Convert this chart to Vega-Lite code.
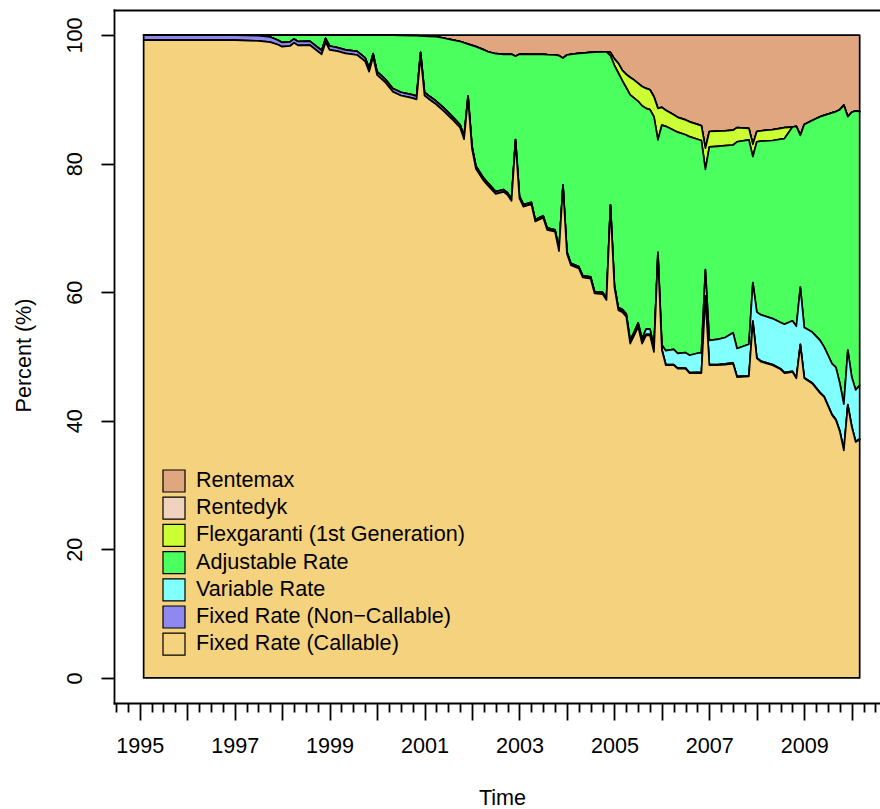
{
"$schema":"https://vega.github.io/schema/vega-lite/v6.json",
"width":766,"height":693,
"autosize":{"type":"none"},
"padding":{"left":114,"top":10,"right":0,"bottom":106},
"background":"white",
"config":{"view":{"stroke":null},"font":"Liberation Sans"},
"data":{"values":[
{"t":1995.083,"g":99.2,"f":0.8,"e":0,"d":0,"c":0,"b":0,"a":0},
{"t":1996.0,"g":99.2,"f":0.8,"e":0,"d":0,"c":0,"b":0,"a":0},
{"t":1997.0,"g":99.2,"f":0.8,"e":0,"d":0,"c":0,"b":0,"a":0},
{"t":1997.5,"g":99.1,"f":0.8,"e":0,"d":0.1,"c":0,"b":0,"a":0},
{"t":1997.75,"g":98.9,"f":0.8,"e":0,"d":0.3,"c":0,"b":0,"a":0},
{"t":1997.917,"g":98.5,"f":0.7,"e":0,"d":0.8,"c":0,"b":0,"a":0},
{"t":1998.0,"g":98.2,"f":0.65,"e":0,"d":1.15,"c":0,"b":0,"a":0},
{"t":1998.167,"g":98.3,"f":0.65,"e":0,"d":1.05,"c":0,"b":0,"a":0},
{"t":1998.25,"g":98.8,"f":0.6,"e":0,"d":0.6,"c":0,"b":0,"a":0},
{"t":1998.333,"g":98.4,"f":0.6,"e":0,"d":1.0,"c":0,"b":0,"a":0},
{"t":1998.583,"g":98.45,"f":0.6,"e":0,"d":0.95,"c":0,"b":0,"a":0},
{"t":1998.833,"g":97.0,"f":0.6,"e":0,"d":2.4,"c":0,"b":0,"a":0},
{"t":1998.917,"g":98.9,"f":0.6,"e":0,"d":0.5,"c":0,"b":0,"a":0},
{"t":1999.0,"g":97.7,"f":0.6,"e":0,"d":1.7,"c":0,"b":0,"a":0},
{"t":1999.167,"g":97.5,"f":0.55,"e":0,"d":1.95,"c":0,"b":0,"a":0},
{"t":1999.333,"g":97.15,"f":0.55,"e":0,"d":2.3,"c":0,"b":0,"a":0},
{"t":1999.583,"g":96.9,"f":0.55,"e":0,"d":2.55,"c":0,"b":0,"a":0},
{"t":1999.75,"g":95.9,"f":0.55,"e":0,"d":3.55,"c":0,"b":0,"a":0},
{"t":1999.833,"g":94.3,"f":0.55,"e":0,"d":5.15,"c":0,"b":0,"a":0},
{"t":1999.917,"g":96.6,"f":0.5,"e":0,"d":2.9,"c":0,"b":0,"a":0},
{"t":2000.0,"g":93.8,"f":0.5,"e":0,"d":5.7,"c":0,"b":0,"a":0},
{"t":2000.167,"g":92.7,"f":0.5,"e":0,"d":6.8,"c":0,"b":0,"a":0},
{"t":2000.333,"g":91.2,"f":0.5,"e":0,"d":8.3,"c":0,"b":0,"a":0},
{"t":2000.5,"g":90.6,"f":0.5,"e":0,"d":8.85,"c":0,"b":0,"a":0.05},
{"t":2000.75,"g":90.2,"f":0.5,"e":0,"d":9.2,"c":0,"b":0,"a":0.1},
{"t":2000.833,"g":90.0,"f":0.5,"e":0,"d":9.4,"c":0,"b":0,"a":0.1},
{"t":2000.917,"g":96.8,"f":0.5,"e":0,"d":2.58,"c":0,"b":0,"a":0.12},
{"t":2001.0,"g":90.6,"f":0.5,"e":0,"d":8.75,"c":0,"b":0,"a":0.15},
{"t":2001.083,"g":90.1,"f":0.5,"e":0,"d":9.2,"c":0,"b":0,"a":0.2},
{"t":2001.25,"g":89.2,"f":0.5,"e":0,"d":10.05,"c":0,"b":0,"a":0.25},
{"t":2001.417,"g":88.1,"f":0.5,"e":0,"d":10.9,"c":0,"b":0,"a":0.5},
{"t":2001.583,"g":86.9,"f":0.45,"e":0,"d":11.9,"c":0,"b":0,"a":0.75},
{"t":2001.75,"g":85.6,"f":0.45,"e":0,"d":12.95,"c":0,"b":0,"a":1.0},
{"t":2001.833,"g":83.8,"f":0.45,"e":0,"d":14.55,"c":0,"b":0,"a":1.2},
{"t":2001.917,"g":90.1,"f":0.45,"e":0,"d":8.05,"c":0,"b":0,"a":1.4},
{"t":2002.0,"g":82.3,"f":0.4,"e":0,"d":15.7,"c":0,"b":0,"a":1.6},
{"t":2002.083,"g":79.2,"f":0.4,"e":0,"d":18.6,"c":0,"b":0,"a":1.8},
{"t":2002.25,"g":77.3,"f":0.4,"e":0,"d":20.0,"c":0,"b":0,"a":2.3},
{"t":2002.333,"g":76.6,"f":0.4,"e":0,"d":20.4,"c":0,"b":0,"a":2.6},
{"t":2002.5,"g":75.3,"f":0.35,"e":0,"d":21.45,"c":0,"b":0,"a":2.9},
{"t":2002.667,"g":75.6,"f":0.35,"e":0,"d":21.05,"c":0,"b":0,"a":3.0},
{"t":2002.75,"g":75.1,"f":0.35,"e":0,"d":21.55,"c":0,"b":0,"a":3.0},
{"t":2002.833,"g":74.2,"f":0.35,"e":0,"d":22.45,"c":0,"b":0,"a":3.0},
{"t":2002.917,"g":83.4,"f":0.35,"e":0,"d":12.95,"c":0,"b":0,"a":3.3},
{"t":2003.0,"g":74.6,"f":0.3,"e":0.05,"d":22.05,"c":0,"b":0,"a":3.0},
{"t":2003.083,"g":73.3,"f":0.3,"e":0.05,"d":23.4,"c":0,"b":0,"a":2.95},
{"t":2003.25,"g":73.7,"f":0.25,"e":0.05,"d":23.0,"c":0,"b":0,"a":3.0},
{"t":2003.333,"g":71.0,"f":0.25,"e":0.05,"d":25.7,"c":0,"b":0,"a":3.0},
{"t":2003.5,"g":71.6,"f":0.25,"e":0.05,"d":25.1,"c":0,"b":0,"a":3.0},
{"t":2003.583,"g":69.7,"f":0.25,"e":0.05,"d":26.95,"c":0,"b":0,"a":3.05},
{"t":2003.75,"g":69.4,"f":0.25,"e":0.05,"d":27.2,"c":0,"b":0,"a":3.1},
{"t":2003.833,"g":66.4,"f":0.25,"e":0.05,"d":30.1,"c":0,"b":0,"a":3.2},
{"t":2003.917,"g":76.4,"f":0.25,"e":0.05,"d":19.7,"c":0,"b":0,"a":3.6},
{"t":2004.0,"g":66.0,"f":0.2,"e":0.1,"d":30.6,"c":0,"b":0,"a":3.1},
{"t":2004.083,"g":64.2,"f":0.2,"e":0.1,"d":32.5,"c":0,"b":0,"a":3.0},
{"t":2004.25,"g":63.7,"f":0.2,"e":0.1,"d":33.15,"c":0,"b":0,"a":2.85},
{"t":2004.333,"g":62.3,"f":0.2,"e":0.1,"d":34.6,"c":0,"b":0,"a":2.8},
{"t":2004.5,"g":62.1,"f":0.2,"e":0.1,"d":34.9,"c":0,"b":0,"a":2.7},
{"t":2004.583,"g":59.8,"f":0.2,"e":0.1,"d":37.25,"c":0,"b":0,"a":2.65},
{"t":2004.75,"g":59.7,"f":0.2,"e":0.1,"d":37.4,"c":0,"b":0,"a":2.6},
{"t":2004.833,"g":58.8,"f":0.2,"e":0.1,"d":38.3,"c":0,"b":0,"a":2.6},
{"t":2004.917,"g":73.3,"f":0.2,"e":0.1,"d":23.2,"c":0.5,"b":0,"a":2.7},
{"t":2005.0,"g":60.8,"f":0.15,"e":0.2,"d":34.15,"c":1.0,"b":0,"a":3.7},
{"t":2005.083,"g":57.2,"f":0.15,"e":0.25,"d":36.5,"c":1.5,"b":0,"a":4.4},
{"t":2005.167,"g":56.9,"f":0.15,"e":0.3,"d":35.55,"c":1.6,"b":0,"a":5.5},
{"t":2005.25,"g":56.2,"f":0.15,"e":0.3,"d":35.15,"c":2.1,"b":0,"a":6.1},
{"t":2005.333,"g":52.0,"f":0.15,"e":0.4,"d":38.15,"c":2.7,"b":0,"a":6.6},
{"t":2005.417,"g":53.3,"f":0.15,"e":0.4,"d":36.35,"c":2.8,"b":0,"a":7.0},
{"t":2005.5,"g":54.6,"f":0.15,"e":0.5,"d":34.45,"c":2.8,"b":0,"a":7.5},
{"t":2005.583,"g":52.0,"f":0.15,"e":0.6,"d":36.25,"c":3.0,"b":0,"a":8.0},
{"t":2005.667,"g":53.3,"f":0.15,"e":0.8,"d":34.35,"c":3.1,"b":0,"a":8.3},
{"t":2005.75,"g":53.3,"f":0.15,"e":0.8,"d":34.15,"c":3.1,"b":0,"a":8.5},
{"t":2005.833,"g":50.7,"f":0.15,"e":0.7,"d":35.75,"c":3.1,"b":0,"a":9.6},
{"t":2005.917,"g":65.7,"f":0.1,"e":0.4,"d":17.5,"c":4.9,"b":0,"a":11.4},
{"t":2006.0,"g":51.0,"f":0.1,"e":0.7,"d":34.2,"c":2.75,"b":0,"a":11.25},
{"t":2006.083,"g":48.65,"f":0.1,"e":2.15,"d":34.9,"c":2.5,"b":0,"a":11.7},
{"t":2006.25,"g":48.65,"f":0.1,"e":2.35,"d":34.1,"c":2.4,"b":0,"a":12.4},
{"t":2006.333,"g":48.1,"f":0.1,"e":2.3,"d":34.4,"c":2.3,"b":0,"a":12.8},
{"t":2006.5,"g":48.1,"f":0.1,"e":2.4,"d":33.9,"c":2.3,"b":0,"a":13.2},
{"t":2006.583,"g":47.4,"f":0.1,"e":2.7,"d":34.0,"c":2.3,"b":0,"a":13.5},
{"t":2006.75,"g":47.45,"f":0.1,"e":2.95,"d":33.3,"c":2.3,"b":0,"a":13.9},
{"t":2006.833,"g":47.4,"f":0.1,"e":3.1,"d":33.0,"c":2.3,"b":0,"a":14.1},
{"t":2006.917,"g":59.3,"f":0.1,"e":4.1,"d":15.6,"c":3.3,"b":0,"a":17.6},
{"t":2007.0,"g":48.65,"f":0.1,"e":3.75,"d":30.1,"c":2.4,"b":0,"a":15.0},
{"t":2007.167,"g":48.65,"f":0.1,"e":3.9,"d":30.05,"c":2.35,"b":0,"a":14.95},
{"t":2007.333,"g":48.75,"f":0.1,"e":4.1,"d":29.85,"c":2.3,"b":0,"a":14.9},
{"t":2007.5,"g":48.9,"f":0.1,"e":4.7,"d":29.2,"c":2.3,"b":0,"a":14.8},
{"t":2007.583,"g":46.8,"f":0.1,"e":4.35,"d":32.15,"c":2.2,"b":0,"a":14.4},
{"t":2007.833,"g":46.9,"f":0.1,"e":4.9,"d":31.8,"c":1.8,"b":0,"a":14.5},
{"t":2007.917,"g":55.4,"f":0.1,"e":6.0,"d":19.6,"c":1.9,"b":0,"a":17.0},
{"t":2008.0,"g":49.7,"f":0.1,"e":7.1,"d":26.5,"c":1.6,"b":0,"a":15.0},
{"t":2008.083,"g":49.2,"f":0.1,"e":7.2,"d":27.0,"c":1.6,"b":0,"a":14.9},
{"t":2008.333,"g":48.65,"f":0.1,"e":7.15,"d":27.7,"c":1.7,"b":0,"a":14.7},
{"t":2008.5,"g":48.0,"f":0.1,"e":7.2,"d":28.5,"c":1.7,"b":0,"a":14.5},
{"t":2008.583,"g":47.4,"f":0.1,"e":7.5,"d":28.9,"c":1.7,"b":0,"a":14.4},
{"t":2008.667,"g":47.5,"f":0.1,"e":7.7,"d":29.5,"c":0.85,"b":0,"a":14.35},
{"t":2008.75,"g":47.6,"f":0.1,"e":7.85,"d":30.15,"c":0,"b":0,"a":14.3},
{"t":2008.833,"g":46.6,"f":0.1,"e":8.0,"d":31.1,"c":0,"b":0,"a":14.2},
{"t":2008.917,"g":51.8,"f":0.1,"e":8.9,"d":23.6,"c":0,"b":0,"a":15.6},
{"t":2009.0,"g":46.6,"f":0.1,"e":7.8,"d":31.6,"c":0,"b":0,"a":13.9},
{"t":2009.167,"g":45.8,"f":0.1,"e":7.9,"d":32.9,"c":0,"b":0,"a":13.3},
{"t":2009.333,"g":44.3,"f":0.1,"e":8.1,"d":34.8,"c":0,"b":0,"a":12.7},
{"t":2009.417,"g":43.7,"f":0.1,"e":7.7,"d":36.0,"c":0,"b":0,"a":12.5},
{"t":2009.5,"g":42.3,"f":0.1,"e":7.8,"d":37.5,"c":0,"b":0,"a":12.3},
{"t":2009.583,"g":40.9,"f":0.1,"e":7.9,"d":39.0,"c":0,"b":0,"a":12.1},
{"t":2009.667,"g":40.1,"f":0.1,"e":8.1,"d":39.8,"c":0,"b":0,"a":11.9},
{"t":2009.75,"g":38.3,"f":0.1,"e":7.4,"d":42.6,"c":0,"b":0,"a":11.6},
{"t":2009.833,"g":35.4,"f":0.1,"e":7.1,"d":46.5,"c":0,"b":0,"a":10.9},
{"t":2009.917,"g":42.4,"f":0.1,"e":8.5,"d":36.3,"c":0,"b":0,"a":12.7},
{"t":2010.0,"g":39.05,"f":0.1,"e":7.65,"d":41.2,"c":0,"b":0,"a":12.0},
{"t":2010.083,"g":36.7,"f":0.1,"e":8.0,"d":43.4,"c":0,"b":0,"a":11.8},
{"t":2010.167,"g":37.1,"f":0.1,"e":8.3,"d":42.6,"c":0,"b":0,"a":11.9}
]},
"resolve":{"axis":{"x":"independent"}},
"layer":[
{
"transform":[{"fold":["a","b","c","d","e","f","g"],"as":["key","value"]}],
"mark":{"type":"area","stroke":"black","strokeWidth":1.7,"strokeJoin":"round","interpolate":"linear"},
"encoding":{
"x":{"field":"t","type":"quantitative","scale":{"domain":[1994.4586,2010.595],"nice":false,"zero":false},
"axis":{"orient":"bottom","values":[1995,1996,1997,1998,1999,2000,2001,2002,2003,2004,2005,2006,2007,2008,2009,2010],"format":"d","labelExpr":"datum.value % 2 === 1 ? datum.label : ''","tickSize":17,"tickWidth":1.8,"tickColor":"black","domainColor":"black","domainWidth":1.8,"domainCap":"square","labelFont":"Liberation Sans","labelFontSize":21.6,"labelColor":"black","labelPadding":32,"labelBaseline":"alphabetic","labelAlign":"center","labelFlush":false,"labelOverlap":false,"grid":false,"title":"Time","titleFont":"Liberation Sans","titleFontSize":21.6,"titleFontWeight":"normal","titleColor":"black","titleX":388,"titleY":101.3,"titleBaseline":"alphabetic","titleAlign":"center"}},
"y":{"field":"value","type":"quantitative","stack":"zero","scale":{"domain":[-3.9,103.9],"nice":false,"zero":false},
"axis":{"orient":"left","values":[0,20,40,60,80,100],"tickSize":13,"tickWidth":1.8,"tickColor":"black","domainColor":"black","domainWidth":1.8,"domainCap":"square","labelAngle":-90,"labelAlign":"center","labelBaseline":"alphabetic","labelPadding":19.3,"labelFont":"Liberation Sans","labelFontSize":21.6,"labelColor":"black","labelOverlap":false,"labelFlush":false,"grid":false,"title":"Percent (%)","titleFont":"Liberation Sans","titleFontSize":21.6,"titleFontWeight":"normal","titleColor":"black","titleAngle":-90,"titleX":-84,"titleY":345,"titleAlign":"center","titleBaseline":"alphabetic"}},
"color":{"field":"key","type":"nominal","scale":{"domain":["a","b","c","d","e","f","g"],"range":["#E0A67F","#F0D2BE","#CCFF33","#4AFF5E","#82FFFF","#8E88F0","#F5D27E"]},
"legend":{"orient":"none","legendX":48,"legendY":459,"title":null,"symbolType":"square","symbolSize":484,"symbolStrokeColor":"black","symbolStrokeWidth":1.2,"symbolOpacity":1,"labelFont":"Liberation Sans","labelFontSize":21.6,"labelColor":"black","labelLimit":600,"labelOffset":10,"rowPadding":-0.8,"padding":0,
"labelExpr":"datum.label === 'a' ? 'Rentemax' : datum.label === 'b' ? 'Rentedyk' : datum.label === 'c' ? 'Flexgaranti (1st Generation)' : datum.label === 'd' ? 'Adjustable Rate' : datum.label === 'e' ? 'Variable Rate' : datum.label === 'f' ? 'Fixed Rate (Non\u2212Callable)' : 'Fixed Rate (Callable)'"}},
"order":{"field":"key","sort":"descending"}
}
},
{
"mark":{"type":"point","opacity":0},
"encoding":{"x":{"field":"t","type":"quantitative","scale":{"domain":[1994.4586,2010.595],"nice":false,"zero":false},
"axis":{"orient":"bottom","values":[1994.5,1994.75,1995.25,1995.5,1995.75,1996.25,1996.5,1996.75,1997.25,1997.5,1997.75,1998.25,1998.5,1998.75,1999.25,1999.5,1999.75,2000.25,2000.5,2000.75,2001.25,2001.5,2001.75,2002.25,2002.5,2002.75,2003.25,2003.5,2003.75,2004.25,2004.5,2004.75,2005.25,2005.5,2005.75,2006.25,2006.5,2006.75,2007.25,2007.5,2007.75,2008.25,2008.5,2008.75,2009.25,2009.5,2009.75,2010.25,2010.5],"tickSize":9,"tickWidth":1.8,"tickColor":"black","labels":false,"domain":false,"grid":false,"title":null}}}
},
{
"mark":{"type":"point","opacity":0},
"encoding":{"x":{"field":"t","type":"quantitative","scale":{"domain":[1994.4586,2010.595],"nice":false,"zero":false},
"axis":{"orient":"top","domain":true,"domainColor":"black","domainWidth":1.8,"domainCap":"square","ticks":false,"labels":false,"grid":false,"title":null}}}
}
]
}
